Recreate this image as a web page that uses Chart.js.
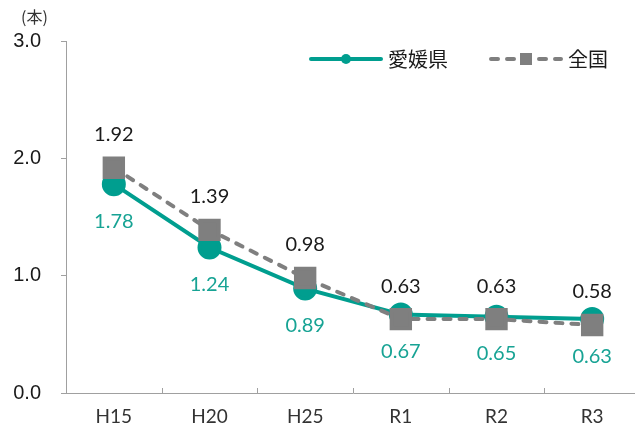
<!DOCTYPE html>
<html lang="ja">
<head>
<meta charset="utf-8">
<script src="https://cdn.jsdelivr.net/npm/chart.js@4.4.1/dist/chart.umd.min.js"></script>
<style>
  html, body { margin: 0; padding: 0; background: #fff; overflow: hidden; }
  #wrap { width: 635px; height: 434px; overflow: hidden; }
</style>
</head>
<body>
<div id="wrap"><canvas id="chart" width="657" height="434"></canvas></div>
<script>
/* ---- data ---- */
const years   = ['H15', 'H20', 'H25', 'R1', 'R2', 'R3'];
const ehime   = [1.78, 1.24, 0.89, 0.67, 0.65, 0.63];
const zenkoku = [1.92, 1.39, 0.98, 0.63, 0.63, 0.58];
const yTicks  = [0, 1, 2, 3];
const unitLabel = '(本)';

const TEAL  = '#009E8F';
const TEAL_TXT = '#17A394';
const GRAY  = '#7F7F7F';
const AXIS  = '#A0A0A0';
const NUM_FONT = 'Lato, "Noto Sans", sans-serif';
const JP_FONT  = '"Noto Sans CJK JP", sans-serif';

// value labels: national above, ehime below
const valueLabels = {
  id: 'valueLabels',
  afterDatasetsDraw(chart) {
    const ctx = chart.ctx;
    ctx.save();
    ctx.font = '20px ' + NUM_FONT;
    ctx.textAlign = 'center';
    ctx.textBaseline = 'middle';
    chart.data.datasets.forEach((ds, i) => {
      const meta = chart.getDatasetMeta(i);
      meta.data.forEach((pt, j) => {
        const above = ds.labelPos === 'above';
        ctx.fillStyle = above ? '#1a1a1a' : TEAL_TXT;
        ctx.fillText(ds.data[j].toFixed(2), pt.x, pt.y + (above ? -33 : 37));
      });
    });
    ctx.restore();
  }
};

// inward tick marks between categories + unit label
const axisExtras = {
  id: 'axisExtras',
  afterDraw(chart) {
    const ctx = chart.ctx;
    const x = chart.scales.x;
    const bottom = chart.chartArea.bottom;
    ctx.save();
    ctx.strokeStyle = AXIS;
    ctx.lineWidth = 1;
    for (let i = 0; i < years.length - 1; i++) {
      const px = Math.round((x.getPixelForValue(i) + x.getPixelForValue(i + 1)) / 2) + 0.5;
      ctx.beginPath();
      ctx.moveTo(px, bottom);
      ctx.lineTo(px, bottom - 5);
      ctx.stroke();
    }
    ctx.fillStyle = '#333';
    ctx.font = '16px ' + JP_FONT;
    ctx.textBaseline = 'middle';
    ctx.textAlign = 'left';
    ctx.fillText(unitLabel, 21, 17);
    ctx.restore();
  }
};

// legend drawn inside the plot, line + marker like the original
const lineLegend = {
  id: 'lineLegend',
  afterDraw(chart) {
    const ctx = chart.ctx;
    const items = [
      { ds: chart.data.datasets[0], x: 311 },
      { ds: chart.data.datasets[1], x: 491 }
    ];
    const y = 59;
    ctx.save();
    items.forEach(({ ds, x }) => {
      ctx.strokeStyle = ds.borderColor;
      ctx.lineWidth = 4;
      ctx.lineCap = 'round';
      ctx.setLineDash(ds.borderDash || []);
      ctx.beginPath();
      ctx.moveTo(x, y);
      ctx.lineTo(x + 70, y);
      ctx.stroke();
      ctx.setLineDash([]);
      ctx.fillStyle = ds.pointBackgroundColor;
      if (ds.pointStyle === 'rect') {
        ctx.fillRect(x + 29, y - 6, 12, 12);
      } else {
        ctx.beginPath();
        ctx.arc(x + 35, y, 5, 0, Math.PI * 2);
        ctx.fill();
      }
      ctx.fillStyle = '#1a1a1a';
      ctx.font = '20px ' + JP_FONT;
      ctx.textBaseline = 'middle';
      ctx.fillText(ds.label, x + 77, y);
    });
    ctx.restore();
  }
};

new Chart(document.getElementById('chart'), {
  type: 'line',
  data: {
    labels: years,
    datasets: [
      {
        label: '愛媛県',
        data: ehime,
        borderColor: TEAL,
        backgroundColor: TEAL,
        pointBackgroundColor: TEAL,
        pointBorderColor: TEAL,
        pointStyle: 'circle',
        pointRadius: 10,
        borderWidth: 4,
        tension: 0,
        labelPos: 'below',
        order: 2
      },
      {
        label: '全国',
        data: zenkoku,
        borderColor: GRAY,
        backgroundColor: GRAY,
        pointBackgroundColor: GRAY,
        pointBorderColor: GRAY,
        pointStyle: 'rect',
        pointRadius: 13,
        borderWidth: 4,
        borderDash: [7, 9],
        borderCapStyle: 'round',
        tension: 0,
        labelPos: 'above',
        order: 1
      }
    ]
  },
  options: {
    responsive: false,
    animation: false,
    layout: { padding: { top: 41, right: 0, left: 0, bottom: 0 } },
    plugins: {
      legend: { display: false },
      tooltip: { enabled: false }
    },
    scales: {
      x: {
        offset: true,
        grid: { display: false },
        border: { color: AXIS, width: 1 },
        ticks: { color: '#333', font: { size: 19, family: NUM_FONT }, padding: 4 },
        afterFit: s => { s.height = 41; s.paddingLeft = 0; s.paddingRight = 0; }
      },
      y: {
        min: 0,
        max: 3,
        afterBuildTicks: s => { s.ticks = yTicks.map(v => ({ value: v })); },
        grid: { drawOnChartArea: false, tickLength: 5, color: AXIS },
        border: { color: AXIS, width: 1 },
        ticks: {
          color: '#1a1a1a',
          font: { size: 20, family: '"Liberation Sans", Arial, sans-serif' },
          padding: 20,
          callback: v => v.toFixed(1)
        },
        afterFit: s => { s.width = 66; }
      }
    }
  },
  plugins: [valueLabels, axisExtras, lineLegend]
});
</script>
</body>
</html>
